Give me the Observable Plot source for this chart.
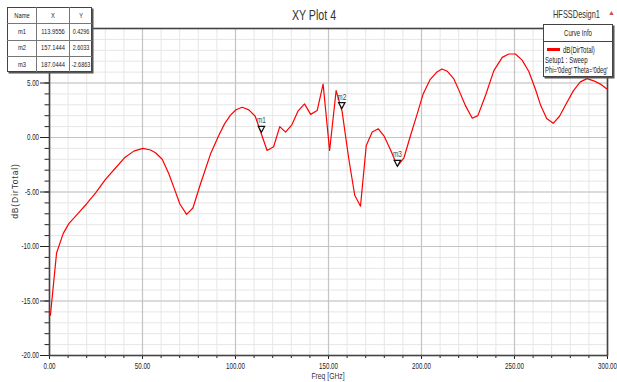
<!DOCTYPE html>
<html>
<head>
<meta charset="utf-8">
<script src="https://cdn.jsdelivr.net/npm/d3@7"></script>
<script src="https://cdn.jsdelivr.net/npm/@observablehq/plot@0.6"></script>
<style>
  html, body { margin: 0; padding: 0; background: #fff; }
  #wrap { position: relative; width: 617px; height: 382px; overflow: hidden;
    font-family: "Liberation Sans", Arial, sans-serif; color: #222; }
  #wrap svg { position: absolute; left: 0; top: 0; }
  .t { position: absolute; white-space: nowrap; line-height: 1; }
  .box { position: absolute; background: #fff; }
  .ln { position: absolute; }
</style>
</head>
<body>
<div id="wrap"></div>
<script>
// ---- data ----
const freq = [0.5,3.8,7.4,10.4,14.9,19.9,24.7,30.1,35.5,40.3,45.3,50.2,54.3,57.0,60.6,64.1,66.8,70.1,73.7,77.1,
  81.2,86.6,91.0,94.1,97.3,100.3,103.6,107.2,110.6,117.0,120.5,123.8,126.9,130.3,133.7,137.1,140.4,143.9,147.1,150.6,
  154.1,157.3,160.9,164.1,167.2,170.3,173.5,176.8,180.0,183.5,187.0,190.5,194.1,197.7,200.9,204.5,208.1,211.0,213.8,217.4,
  220.2,223.7,227.3,230.3,234.5,238.9,243.4,246.9,250.5,254.1,257.7,261.3,264.1,267.3,270.8,274.2,277.8,281.7,285.4,289.0,
  292.6,296.2,300.0];
const dirTotal = [-16.3,-10.6,-8.8,-7.9,-7.05,-6.1,-5.1,-3.85,-2.8,-1.86,-1.25,-1.0,-1.15,-1.4,-2.0,-3.3,-4.55,-6.1,-7.05,-6.47,
  -4.24,-1.5,0.18,1.25,2.05,2.55,2.77,2.53,1.95,-1.19,-0.85,1.0,0.49,1.16,2.45,3.08,2.12,2.47,4.9,-1.19,
  4.3,2.4,-1.95,-5.3,-6.3,-0.73,0.5,0.8,0.1,-1.19,-2.62,-1.9,0.18,2.17,4.0,5.28,5.98,6.29,6.08,5.37,
  4.3,2.9,1.77,2.01,3.9,6.13,7.35,7.66,7.66,7.1,6.05,4.4,2.93,1.75,1.3,1.95,3.1,4.3,5.1,5.4,
  5.2,4.9,4.4];

const markerNames = ["m1", "m2", "m3"];
const markerX = [113.9556, 157.1444, 187.0444];
const markerY = [0.4296, 2.6033, -2.6863];

const xMajorTicks = [0, 50, 100, 150, 200, 250, 300];
const xMinorTicks = d3.range(0, 301, 10);
const yMajorTicks = [-20, -15, -10, -5, 0, 5];
const yMinorTicks = d3.range(-20, 11, 1);

const seriesName = "dB(DirTotal)";
const tableHeader = ["Name", "X", "Y"];
const legendLines = ["Setup1 : Sweep", "Phi='0deg' Theta='0deg'"];

// ---- build ----
const NARROW = 0.72;
const curve = freq.map((f, i) => ({f, v: dirTotal[i]}));
const markers = markerNames.map((n, i) => ({n, x: markerX[i], y: markerY[i]}));

const downTriangle = {
  draw(ctx) {
    ctx.moveTo(-3.2, -6.5);
    ctx.lineTo(3.2, -6.5);
    ctx.lineTo(0, -0.5);
    ctx.closePath();
  }
};

const fmt2 = d => d.toFixed(2);

const chart = Plot.plot({
  width: 617,
  height: 382,
  marginLeft: 49,
  marginRight: 10,
  marginTop: 28,
  marginBottom: 27,
  style: {fontFamily: '"Liberation Sans", Arial, sans-serif', fontSize: "8.6px", color: "#222", background: "transparent"},
  x: {domain: [0, 300]},
  y: {domain: [-20, 10]},
  marks: [
    Plot.gridX(xMinorTicks, {stroke: "#e6e6e6", strokeOpacity: 1}),
    Plot.gridY(yMinorTicks, {stroke: "#e6e6e6", strokeOpacity: 1}),
    Plot.gridX(xMajorTicks, {stroke: "#c4c4c4", strokeOpacity: 1, strokeWidth: 1.2}),
    Plot.gridY(yMajorTicks, {stroke: "#c4c4c4", strokeOpacity: 1, strokeWidth: 1.2}),
    Plot.axisX(xMinorTicks, {tickSize: 3, tickFormat: () => "", label: null, stroke: "#222"}),
    Plot.axisX(xMajorTicks, {tickSize: 4, tickPadding: 3, tickFormat: fmt2, label: null, stroke: "#222", fill: "#222"}),
    Plot.axisY(yMinorTicks, {tickSize: 4.5, tickFormat: () => "", label: null, stroke: "#222"}),
    Plot.axisY(yMajorTicks, {tickSize: 9, tickPadding: 1.5, tickFormat: fmt2, label: null, stroke: "#222", fill: "#222"}),
    Plot.frame({stroke: "#444", strokeWidth: 1.6}),
    Plot.line(curve, {x: "f", y: "v", stroke: "#ff0000", strokeWidth: 1.2}),
    Plot.dot(markers, {x: "x", y: "y", symbol: downTriangle, r: 3, stroke: "#111", strokeWidth: 1.2, fill: "white"}),
    Plot.text(markers, {x: "x", y: "y", text: "n", dy: -12.5, fill: "#444", fontSize: 9})
  ]
});

const wrap = document.getElementById("wrap");
wrap.appendChild(chart);

// condense every SVG text horizontally about its anchor (no narrow face installed)
const SVGNS = "http://www.w3.org/2000/svg";
Array.from(chart.querySelectorAll("text")).forEach(t => {
  if (!t.textContent) return;
  const g = document.createElementNS(SVGNS, "g");
  t.parentNode.insertBefore(g, t);
  g.appendChild(t);
  const b = g.getBBox();
  const a = getComputedStyle(t).textAnchor;
  const ax = a === "end" ? b.x + b.width : a === "middle" ? b.x + b.width / 2 : b.x;
  g.setAttribute("transform", `translate(${ax},0) scale(${NARROW},1) translate(${-ax},0)`);
});

// ---- html overlays ----
function txt(text, x, y, size, anchor = "start", extra = {}) {
  const d = document.createElement("div");
  d.className = "t";
  d.textContent = text;
  d.style.left = x + "px";
  d.style.top = y + "px";
  d.style.fontSize = size + "px";
  const ax = anchor === "middle" ? 50 : anchor === "end" ? 100 : 0;
  const sx = extra.scale != null ? extra.scale : NARROW;
  d.style.transformOrigin = `${ax}% 50%`;
  d.style.transform = `translate(${-ax}%, -50%) ${extra.rotate ? "rotate(-90deg) " : ""}scaleX(${sx})`;
  if (extra.color) d.style.color = extra.color;
  if (extra.ls) d.style.letterSpacing = extra.ls + "px";
  wrap.appendChild(d);
  return d;
}
function rect(x, y, w, h, style) {
  const d = document.createElement("div");
  d.className = "box";
  Object.assign(d.style, {left: x + "px", top: y + "px", width: w + "px", height: h + "px"}, style);
  wrap.appendChild(d);
  return d;
}
function line(x, y, w, h, color) {
  const d = document.createElement("div");
  d.className = "ln";
  Object.assign(d.style, {left: x + "px", top: y + "px", width: w + "px", height: h + "px", background: color});
  wrap.appendChild(d);
}

// title and header texts
txt("XY Plot 4", 313.5, 14.5, 14.8, "middle", {color: "#333"});
txt("HFSSDesign1", 553, 14.5, 10.3, "start", {color: "#333"});
txt("▲", 611.5, 12, 7, "middle", {color: "#d24a4a", scale: 1});

// axis labels
txt(seriesName, 15, 191, 8.5, "middle", {rotate: true, scale: 1, ls: 0.9, color: "#333"});
txt("Freq [GHz]", 328, 376, 9.4, "middle", {color: "#333"});

// marker table
const colX = [7, 36, 69, 92];
const rowY = [7, 23.3, 39.7, 56, 72];
rect(colX[0], rowY[0], colX[3] - colX[0], rowY[4] - rowY[0],
  {border: "1px solid #444", boxSizing: "border-box", boxShadow: "1.5px 1.5px 0 #555"});
for (let j = 1; j < 3; j++) line(colX[j], rowY[0], 1, rowY[4] - rowY[0], "#777");
for (let i = 1; i < 4; i++) line(colX[0], rowY[i], colX[3] - colX[0], 1, "#777");
const rows = [tableHeader].concat(markers.map(m => [m.n, m.x.toFixed(4), m.y.toFixed(4)]));
rows.forEach((r, i) => {
  r.forEach((c, j) => {
    txt(c, (colX[j] + colX[j + 1]) / 2 + 0.5, (rowY[i] + rowY[i + 1]) / 2 + 0.5, 8, "middle",
      {color: "#222", scale: j === 2 ? 0.68 : NARROW});
  });
});

// legend
rect(543, 24, 70, 53, {border: "1px solid #444", boxSizing: "border-box", boxShadow: "1.5px 1.5px 0 #555"});
line(543, 40.5, 70, 1, "#444");
txt("Curve Info", 578, 32.5, 8.4, "middle");
line(547, 48, 13, 2.5, "#ff0000");
txt(seriesName, 563, 49.5, 8.4, "start");
txt(legendLines[0], 545, 60, 8.4, "start");
txt(legendLines[1], 545, 71, 8.2, "start");
</script>
</body>
</html>
